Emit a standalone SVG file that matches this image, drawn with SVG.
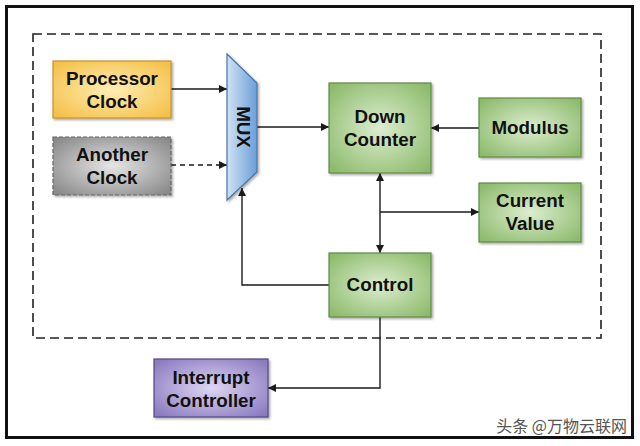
<svg xmlns="http://www.w3.org/2000/svg" width="640" height="446" viewBox="0 0 640 446">
<defs>
<radialGradient id="gGreen" cx="50%" cy="50%" r="65%"><stop offset="0" stop-color="#dcedcf"/><stop offset="1" stop-color="#8dbb6c"/></radialGradient>
<radialGradient id="gPurple" cx="50%" cy="50%" r="65%"><stop offset="0" stop-color="#ddd6f2"/><stop offset="1" stop-color="#8b7bc0"/></radialGradient>
<radialGradient id="gGray" cx="50%" cy="50%" r="65%"><stop offset="0" stop-color="#e6e6e6"/><stop offset="1" stop-color="#8a8a8a"/></radialGradient>
<radialGradient id="gYellow" cx="50%" cy="50%" r="65%"><stop offset="0" stop-color="#feeeb4"/><stop offset="1" stop-color="#f5c04a"/></radialGradient>
<linearGradient id="gBlue" x1="0" y1="0" x2="1" y2="0"><stop offset="0" stop-color="#cfe2f5"/><stop offset="1" stop-color="#6c9fd6"/></linearGradient>
<filter id="sh" x="-10%" y="-10%" width="130%" height="130%"><feDropShadow dx="1.5" dy="1.5" stdDeviation="1.2" flood-color="#000" flood-opacity="0.35"/></filter>
<marker id="ah" viewBox="0 0 10 10" refX="10" refY="5" markerWidth="8" markerHeight="8" markerUnits="userSpaceOnUse" orient="auto-start-reverse"><path d="M0,0 L10,5 L0,10 z" fill="#1a1a1a"/></marker>
</defs>
<style>
.t{font-family:"Liberation Sans",Arial,sans-serif;font-weight:bold;font-size:18.8px;fill:#111;text-anchor:middle}
.ln{fill:none;stroke:#1a1a1a;stroke-width:1.4}
.box{stroke-width:1.2;filter:url(#sh)}
</style>
<rect x="0" y="0" width="640" height="446" fill="#fff"/>
<rect x="6.5" y="6.5" width="626" height="431" fill="none" stroke="#111" stroke-width="3"/>
<rect x="33" y="34" width="568" height="304" fill="none" stroke="#222" stroke-width="1.6" stroke-dasharray="9,5"/>

<g id="connectors">
<line class="ln" x1="171" y1="89" x2="227" y2="89" marker-end="url(#ah)"/>
<line class="ln" x1="171" y1="165" x2="227" y2="165" stroke-dasharray="5,4" marker-end="url(#ah)"/>
<line class="ln" x1="257" y1="127" x2="329" y2="127" marker-end="url(#ah)"/>
<line class="ln" x1="479" y1="128" x2="431" y2="128" marker-end="url(#ah)"/>
<line class="ln" x1="380" y1="173" x2="380" y2="253" marker-start="url(#ah)" marker-end="url(#ah)"/>
<line class="ln" x1="380" y1="212" x2="479" y2="212" marker-end="url(#ah)"/>
<polyline class="ln" points="329,285 242,285 242,188" marker-end="url(#ah)"/>
<polyline class="ln" points="380,317 380,388 268,388" marker-end="url(#ah)"/>
</g>

<g id="processor-clock">
<rect class="box" x="53" y="61" width="118" height="57" fill="url(#gYellow)" stroke="#c9922a"/>
<text class="t" x="112" y="85">Processor</text>
<text class="t" x="112" y="108">Clock</text>
</g>
<g id="another-clock">
<rect class="box" x="53" y="137" width="118" height="58" fill="url(#gGray)" stroke="#666" stroke-dasharray="4,2"/>
<text class="t" x="112" y="161">Another</text>
<text class="t" x="112" y="184">Clock</text>
</g>
<g id="mux">
<polygon class="box" points="227,54 257,83 257,172 227,200" fill="url(#gBlue)" stroke="#4a74a6"/>
<text class="t" transform="translate(243,127) rotate(90)" y="6">MUX</text>
</g>
<g id="down-counter">
<rect class="box" x="329" y="83" width="102" height="90" fill="url(#gGreen)" stroke="#5f8a4a"/>
<text class="t" x="380" y="123">Down</text>
<text class="t" x="380" y="146">Counter</text>
</g>
<g id="modulus">
<rect class="box" x="479" y="98" width="102" height="59" fill="url(#gGreen)" stroke="#5f8a4a"/>
<text class="t" x="530" y="134">Modulus</text>
</g>
<g id="current-value">
<rect class="box" x="479" y="183" width="102" height="59" fill="url(#gGreen)" stroke="#5f8a4a"/>
<text class="t" x="530" y="207">Current</text>
<text class="t" x="530" y="230">Value</text>
</g>
<g id="control">
<rect class="box" x="329" y="253" width="102" height="64" fill="url(#gGreen)" stroke="#5f8a4a"/>
<text class="t" x="380" y="291">Control</text>
</g>
<g id="interrupt-controller">
<rect class="box" x="154" y="359" width="114" height="58" fill="url(#gPurple)" stroke="#55487f"/>
<text class="t" x="211" y="384">Interrupt</text>
<text class="t" x="211" y="407">Controller</text>
</g>
<text x="627" y="432" font-family="'Noto Sans CJK SC',sans-serif" font-size="16" fill="#555" text-anchor="end">头条 @万物云联网</text>
</svg>
